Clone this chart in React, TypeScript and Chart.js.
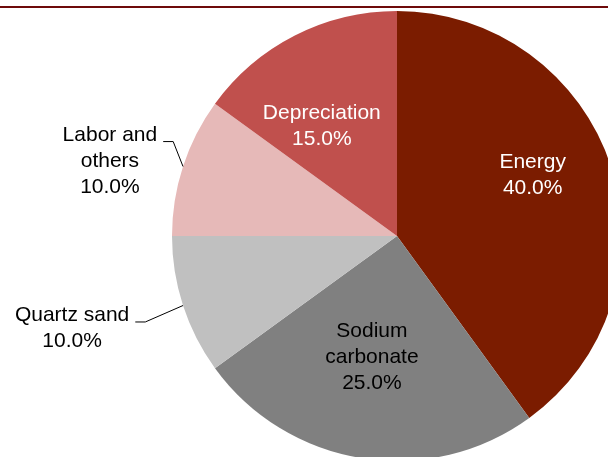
import { useEffect, useRef } from "react";
import { Chart, PieController, ArcElement } from "chart.js";

Chart.register(PieController, ArcElement);

// Cost breakdown, share of total (%)
const categories = ["Energy", "Sodium carbonate", "Quartz sand", "Labor and others", "Depreciation"];
const shares = [40, 25, 10, 10, 15];
const sliceColors = ["#7B1C00", "#808080", "#C0C0C0", "#E6B9B8", "#C0504D"];
const labelLines = [["Energy"], ["Sodium", "carbonate"], ["Quartz sand"], ["Labor and", "others"], ["Depreciation"]];

const FONT = '21px "Liberation Sans", Arial, sans-serif';
const LINE_H = 26;

type Placement =
  | { kind: "inside"; angle: number; r: number; color: string }
  | { kind: "outside"; dx: number; dy: number };

// label anchors: inside ones in polar form (degrees clockwise from 12 o'clock, fraction of radius),
// outside ones as offsets from the centre in radius units
const placements: Placement[] = [
  { kind: "inside", angle: 66, r: 0.66, color: "#FFFFFF" },
  { kind: "inside", angle: 191.7, r: 0.55, color: "#000000" },
  { kind: "outside", dx: -1.444, dy: 0.411 },
  { kind: "outside", dx: -1.276, dy: -0.333 },
  { kind: "inside", angle: 325.5, r: 0.59, color: "#FFFFFF" },
];

const pieLabels = {
  id: "pieLabels",
  afterDatasetsDraw(chart: Chart) {
    const ctx = chart.ctx;
    const meta = chart.getDatasetMeta(0);
    ctx.save();
    ctx.font = FONT;
    ctx.textAlign = "center";
    ctx.textBaseline = "middle";
    meta.data.forEach((el: any, i: number) => {
      const { x, y, startAngle, endAngle, outerRadius } = el.getProps(
        ["x", "y", "startAngle", "endAngle", "outerRadius"],
        true
      );
      const value = chart.data.datasets[0].data[i] as number;
      const lines = [...labelLines[i], value.toFixed(1) + "%"];
      const p = placements[i];
      let ax: number;
      let ay: number;
      if (p.kind === "inside") {
        const a = ((p.angle - 90) * Math.PI) / 180;
        ax = x + Math.cos(a) * outerRadius * p.r;
        ay = y + Math.sin(a) * outerRadius * p.r;
        ctx.fillStyle = p.color;
      } else {
        ax = x + p.dx * outerRadius;
        ay = y + p.dy * outerRadius;
        ctx.fillStyle = "#000000";
      }
      const top = ay - ((lines.length - 1) * LINE_H) / 2;
      lines.forEach((t, k) => ctx.fillText(t, ax, top + k * LINE_H));

      if (p.kind === "outside") {
        // leader line: short horizontal stub, then to the slice edge at its mid angle
        const w = ctx.measureText(lines[0]).width;
        const sx = ax + w / 2 + 6;
        const sy = top + 6.5;
        const mid = (startAngle + endAngle) / 2;
        ctx.beginPath();
        ctx.strokeStyle = "#000000";
        ctx.lineWidth = 1;
        ctx.moveTo(sx, sy);
        ctx.lineTo(sx + 10, sy);
        ctx.lineTo(x + Math.cos(mid) * outerRadius, y + Math.sin(mid) * outerRadius);
        ctx.stroke();
      }
    });
    ctx.restore();
  },
};

export default function App() {
  const ref = useRef<HTMLCanvasElement>(null);

  useEffect(() => {
    if (!ref.current) return;
    const chart = new Chart(ref.current, {
      type: "pie",
      data: {
        labels: categories,
        datasets: [
          {
            data: shares,
            backgroundColor: sliceColors,
            borderWidth: 0,
          },
        ],
      },
      options: {
        responsive: false,
        animation: false,
        radius: 225,
        layout: { padding: 0 },
        events: [],
        plugins: {
          legend: { display: false },
          tooltip: { enabled: false },
        } as any,
      },
      plugins: [pieLabels],
    });
    return () => chart.destroy();
  }, []);

  return (
    <div
      style={{
        position: "absolute",
        left: 0,
        top: 0,
        width: 608,
        height: 457,
        overflow: "hidden",
        background: "#FFFFFF",
      }}
    >
      <div
        style={{
          position: "absolute",
          left: 0,
          top: 6,
          width: 608,
          height: 2,
          background: "#6E0A0A",
        }}
      />
      <canvas ref={ref} width={794} height={472} style={{ display: "block" }} />
    </div>
  );
}
